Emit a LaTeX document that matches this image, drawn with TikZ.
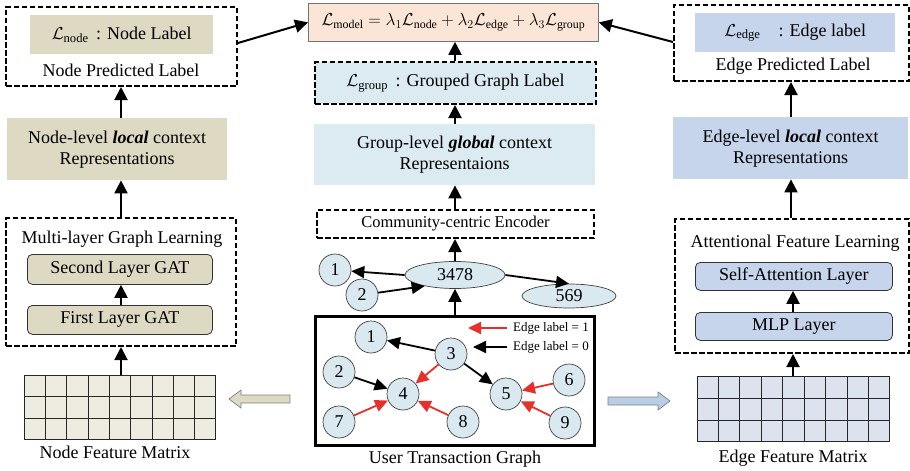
\documentclass[tikz,border=0pt]{standalone}
\usepackage{fontspec}
\usepackage{amsmath}
\setmainfont{Liberation Serif}
\usetikzlibrary{arrows.meta,calc,shapes.geometric}

\definecolor{tanfill}{HTML}{DDD9C3}
\definecolor{tanlight}{HTML}{EEECE1}
\definecolor{peach}{HTML}{FBE5D6}
\definecolor{grpblue}{HTML}{DCEAF2}
\definecolor{edgeblue}{HTML}{C6D5EC}
\definecolor{arrblue}{HTML}{B9CDE5}
\definecolor{edgelight}{HTML}{DCE3EE}
\definecolor{circfill}{HTML}{DAE8F0}
\definecolor{arrred}{HTML}{E8302A}

\tikzset{
  txt/.style={font=\fontsize{18}{21}\selectfont, inner sep=0pt, align=center},
  dashbox/.style={draw=black, line width=2pt, dash pattern=on 5.5pt off 2.5pt},
  fillbox/.style={draw=none, inner sep=0pt},
  layerbox/.style={draw=black!80, line width=0.8pt, rounded corners=5pt, inner sep=0pt},
  conn/.style={line width=2pt, -{Triangle[width=13pt,length=13pt]}},
  gedge/.style={line width=1.8pt, -{Triangle[width=12pt,length=13pt]}},
  redge/.style={gedge, draw=arrred, -{Triangle[width=12pt,length=13pt,fill=arrred]}},
  vert/.style={circle, draw=black!75, line width=0.7pt, fill=circfill, minimum size=32pt, inner sep=0pt, font=\fontsize{18}{18}\selectfont},
  oval/.style={ellipse, draw=black!75, line width=0.7pt, fill=circfill, inner sep=0pt, font=\fontsize{18}{18}\selectfont},
  matcell/.style={draw=black!85, line width=1pt},
  legtxt/.style={font=\fontsize{13}{15}\selectfont, anchor=west, inner sep=0pt},
}

\begin{document}
\begin{tikzpicture}[x=1pt,y=-1pt]
\useasboundingbox (0,0) rectangle (910,471);

% ---------------- left column: node branch ----------------
\node[dashbox, minimum width=231pt, minimum height=79pt, anchor=north west] (nlbl) at (5,6) {};
\node[fillbox, fill=tanfill, minimum width=183pt, minimum height=39pt, anchor=north west] (nlblin) at (30,15) {};
\node[txt] (nlbltxt) at (nlblin.center) {$\mathcal{L}_{\text{node}}$\, : Node Label};
\node[txt] (npred) at (121,70) {Node Predicted Label};

\node[fillbox, fill=tanfill, minimum width=220pt, minimum height=62pt, anchor=north west] (nrep) at (7,118) {};
\node[txt] (nreptxt) at (nrep.center) {Node-level \textbf{\textit{local}} context\\Representations};

\node[dashbox, minimum width=230pt, minimum height=128pt, anchor=north west] (gl) at (5,217) {};
\node[txt] (gltitle) at (122,239) {Multi-layer Graph Learning};
\node[layerbox, fill=tanfill, minimum width=185pt, minimum height=30pt, anchor=north west] (gat2) at (27,254) {};
\node[txt] (gat2txt) at (gat2.center) {Second Layer GAT};
\node[layerbox, fill=tanfill, minimum width=185pt, minimum height=29pt, anchor=north west] (gat1) at (27,305) {};
\node[txt] (gat1txt) at (gat1.center) {First Layer GAT};

\node[matcell, fill=tanlight, minimum width=191pt, minimum height=64pt, anchor=north west, inner sep=0pt] (nmat) at (24,375) {};
\foreach \i in {1,...,8}
  \draw[matcell] ($(nmat.south west)!\i/9!(nmat.south east)$) -- ($(nmat.north west)!\i/9!(nmat.north east)$);
\foreach \j in {1,2}
  \draw[matcell] ($(nmat.north west)!\j/3!(nmat.south west)$) -- ($(nmat.north east)!\j/3!(nmat.south east)$);
\node[txt] (nmattxt) at (115,452) {Node Feature Matrix};

% ---------------- middle column: graph branch ----------------
\node[draw=black!55, line width=0.8pt, fill=peach, minimum width=290pt, minimum height=38pt, anchor=north west, inner sep=0pt] (model) at (308,3) {};
\node[txt, font=\fontsize{17}{20}\selectfont] (modeltxt) at (model.center) {$\mathcal{L}_{\text{model}} = \lambda_1\mathcal{L}_{\text{node}} + \lambda_2\mathcal{L}_{\text{edge}} + \lambda_3\mathcal{L}_{\text{group}}$};

\node[dashbox, fill=grpblue, minimum width=281pt, minimum height=42pt, anchor=north west] (grp) at (314,61) {};
\node[txt] (grptxt) at (grp.center) {$\mathcal{L}_{\text{group}}$\, : Grouped Graph Label};

\node[fillbox, fill=grpblue, minimum width=281pt, minimum height=61pt, anchor=north west] (grep) at (314,124) {};
\node[txt] (greptxt) at (grep.center) {Group-level \textbf{\textit{global}} context\\Representaions};

\node[dashbox, minimum width=277pt, minimum height=28pt, anchor=north west] (enc) at (316,209) {};
\node[txt, font=\fontsize{16.5}{18}\selectfont] (enctxt) at (enc.center) {Community-centric Encoder};

\node[oval, minimum width=100pt, minimum height=27pt] (g3478) at (455,275) {3478};
\node[oval, minimum width=94pt, minimum height=24pt] (g569) at (569,296) {569};
\node[vert] (ga) at (335,270) {1};
\node[vert] (gb) at (362,295) {2};

\node[draw=black, line width=2.5pt, minimum width=279pt, minimum height=129pt, anchor=north west, inner sep=0pt] (graph) at (314,315) {};
\node[vert] (v1) at (371,337) {1};
\node[vert] (v3) at (451,354) {3};
\node[vert] (v2) at (339,372) {2};
\node[vert] (v4) at (403,394) {4};
\node[vert] (v5) at (506,394) {5};
\node[vert] (v6) at (569,380) {6};
\node[vert] (v7) at (339,422) {7};
\node[vert] (v8) at (463,422) {8};
\node[vert] (v9) at (565,423) {9};
\node[txt] (graphtxt) at (455,459) {User Transaction Graph};

% legend
\coordinate (lr1) at (507,328);
\coordinate (lr0) at (468,328);
\coordinate (lb1) at (507,347);
\coordinate (lb0) at (473,347);
\node[legtxt] (leg1) at (513,328) {Edge label = 1};
\node[legtxt] (leg0) at (513,347) {Edge label = 0};
\draw[redge] (lr1) -- (lr0);
\draw[gedge] (lb1) -- (lb0);

% transaction edges
\draw[gedge] (v3) -- (v1);
\draw[gedge] (v3) -- (v5);
\draw[gedge] (v2) -- (v4);
\draw[redge] (v3) -- (v4);
\draw[redge] (v7) -- (v4);
\draw[redge] (v8) -- (v4);
\draw[redge] (v6) -- (v5);
\draw[redge] (v9) -- (v5);

% grouped graph edges
\draw[gedge] (g3478.west) -- (ga);
\draw[gedge] (gb) -- (g3478.-160);
\draw[gedge] (g3478.east) -- (g569.north);

% ---------------- right column: edge branch ----------------
\node[dashbox, minimum width=235pt, minimum height=76pt, anchor=north west] (elbl) at (673,4) {};
\node[fillbox, fill=edgeblue, minimum width=200pt, minimum height=39pt, anchor=north west] (elblin) at (695,13) {};
\node[txt] (elbltxt) at (elblin.center) {$\mathcal{L}_{\text{edge}}$\quad: Edge label};
\node[txt] (epred) at (793,66) {Edge Predicted Label};

\node[fillbox, fill=edgeblue, minimum width=235pt, minimum height=62pt, anchor=north west] (erep) at (673,117) {};
\node[txt] (ereptxt) at (erep.center) {Edge-level \textbf{\textit{local}} context\\Representations};

\node[dashbox, minimum width=234pt, minimum height=134pt, anchor=north west] (att) at (674,218) {};
\node[txt] (atttitle) at (795,243) {Attentional Feature Learning};
\node[layerbox, fill=edgeblue, minimum width=197pt, minimum height=28pt, anchor=north west] (selfatt) at (695,262) {};
\node[txt] (selfatttxt) at (selfatt.center) {Self-Attention Layer};
\node[layerbox, fill=edgeblue, minimum width=197pt, minimum height=28pt, anchor=north west] (mlp) at (695,312) {};
\node[txt] (mlptxt) at (mlp.center) {MLP Layer};

\node[matcell, fill=edgelight, minimum width=192pt, minimum height=65pt, anchor=north west, inner sep=0pt] (emat) at (697,376) {};
\foreach \i in {1,...,8}
  \draw[matcell] ($(emat.south west)!\i/9!(emat.south east)$) -- ($(emat.north west)!\i/9!(emat.north east)$);
\foreach \j in {1,2}
  \draw[matcell] ($(emat.north west)!\j/3!(emat.south west)$) -- ($(emat.north east)!\j/3!(emat.south east)$);
\node[txt] (emattxt) at (793,458) {Edge Feature Matrix};

% ---------------- block arrows from the graph to the matrices ----------------
\draw[draw=black!50, line width=0.7pt, fill=tanfill]
  (229,399) -- (241,390) -- (241,395) -- (290,395) -- (290,403) -- (241,403) -- (241,408) -- cycle;
\draw[draw=black!50, line width=0.7pt, fill=arrblue]
  (670,401) -- (658,392) -- (658,397) -- (608,397) -- (608,405) -- (658,405) -- (658,410) -- cycle;

% ---------------- vertical flow ----------------
\draw[conn] (nrep.north -| 121,0) -- (nlbl.south -| 121,0);
\draw[conn] (gl.north -| 121,0) -- (nrep.south -| 121,0);
\draw[conn] (gat1.north -| 121,0) -- (gat2.south -| 121,0);
\draw[conn] (nmat.north -| 121,0) -- (gl.south -| 121,0);

\draw[conn] (grp.north -| 455,0) -- (model.south -| 455,0);
\draw[conn] (grep.north -| 455,0) -- (grp.south -| 455,0);
\draw[conn] (enc.north -| 455,0) -- (grep.south -| 455,0);
\draw[conn] (g3478.north) -- (enc.south -| g3478.north);
\draw[conn] (graph.north -| g3478.south) -- (g3478.south);

\draw[conn] (erep.north -| 791,0) -- (elbl.south -| 791,0);
\draw[conn] (att.north -| 791,0) -- (erep.south -| 791,0);
\draw[conn] (mlp.north -| 793,0) -- (selfatt.south -| 793,0);
\draw[conn] (emat.north -| 793,0) -- (att.south -| 793,0);

% losses into the model objective
\draw[conn] (nlbl.east |- 0,43) -- (model.west);
\draw[conn] (elbl.west |- 0,42) -- (model.east);
\end{tikzpicture}
\end{document}
